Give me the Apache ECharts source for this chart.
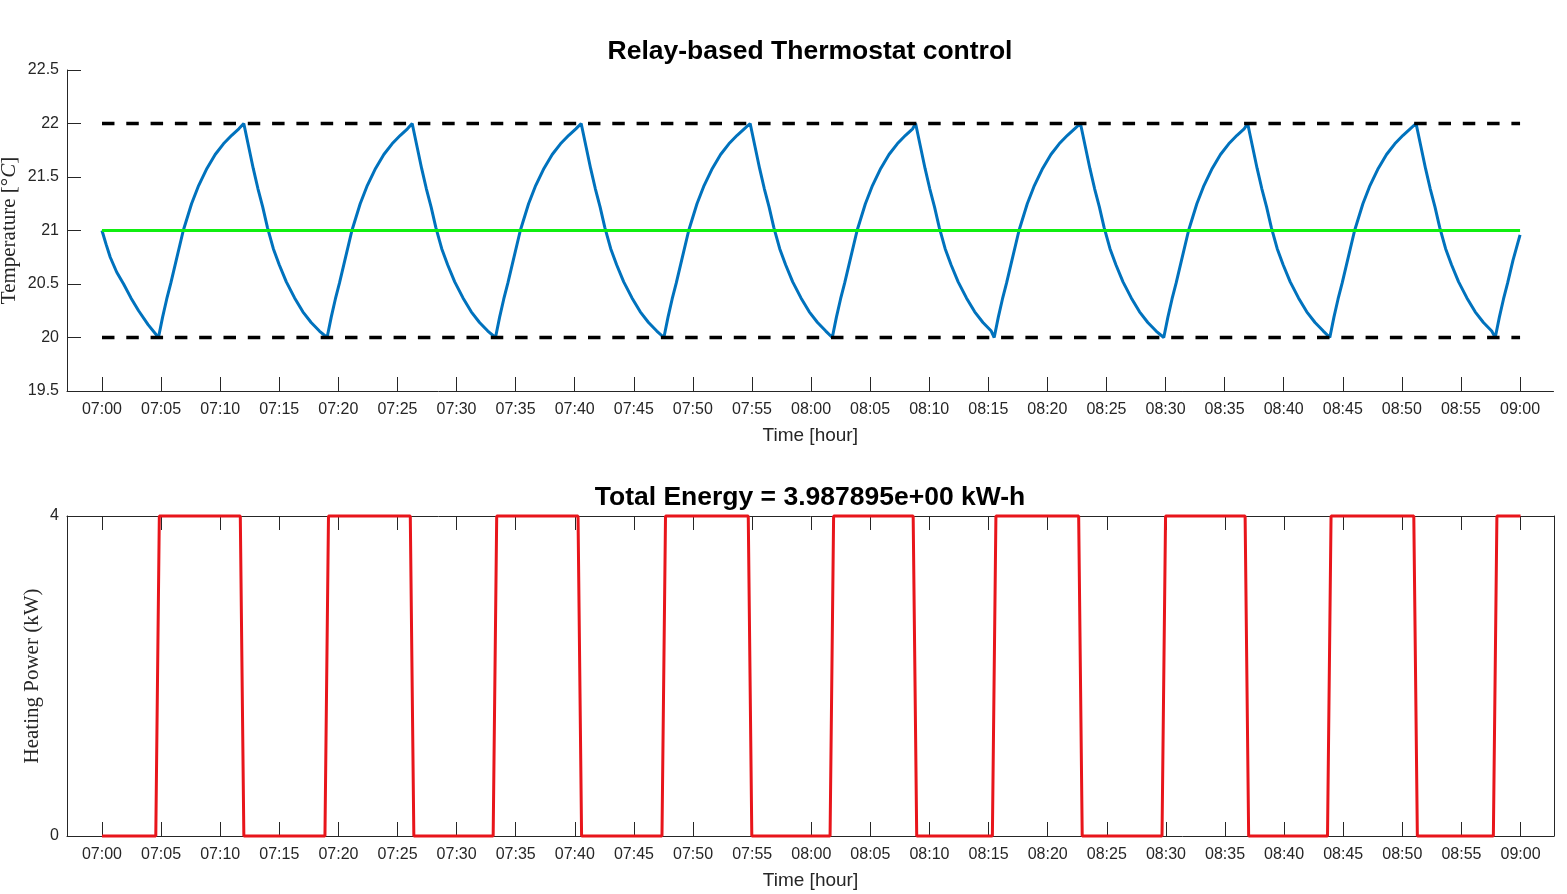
<!DOCTYPE html>
<html>
<head>
<meta charset="utf-8">
<title>Relay-based Thermostat control</title>
<script src="https://cdn.jsdelivr.net/npm/echarts@6/dist/echarts.min.js"></script>
<style>
  html, body { margin: 0; padding: 0; background: #fff; }
  #chart { width: 1567px; height: 894px; }
</style>
</head>
<body>
<div id="chart"></div>
<script>
// minutes after 07:00 and room temperature
var tempMinutes = [
  0, 0.35, 0.70, 1.25, 1.83, 2.45, 3.10, 3.90, 4.78,
  5.13, 5.48, 5.83, 6.28, 6.88, 7.58, 8.18, 8.88, 9.58, 10.28, 10.98, 11.58, 12.0,
  12.4, 12.8, 13.2, 13.6, 14.0, 14.5, 15.0, 15.6, 16.3, 17.0, 17.7, 18.4, 19.05,
  19.40, 19.75, 20.10, 20.55, 21.15, 21.85, 22.45, 23.15, 23.85, 24.55, 25.25, 25.85, 26.25,
  26.65, 27.05, 27.45, 27.85, 28.25, 28.75, 29.25, 29.85, 30.55, 31.25, 31.95, 32.65, 33.3,
  33.65, 34.0, 34.35, 34.8, 35.4, 36.1, 36.7, 37.4, 38.1, 38.8, 39.5, 40.1, 40.55,
  40.95, 41.35, 41.75, 42.15, 42.55, 43.05, 43.55, 44.15, 44.85, 45.55, 46.25, 46.95, 47.55,
  47.9, 48.25, 48.6, 49.05, 49.65, 50.35, 50.95, 51.65, 52.35, 53.05, 53.75, 54.35, 54.85,
  55.25, 55.65, 56.05, 56.45, 56.85, 57.35, 57.85, 58.45, 59.15, 59.85, 60.55, 61.25, 61.8,
  62.15, 62.5, 62.85, 63.3, 63.9, 64.6, 65.2, 65.9, 66.6, 67.3, 68.0, 68.6, 68.85,
  69.25, 69.65, 70.05, 70.45, 70.85, 71.35, 71.85, 72.45, 73.15, 73.85, 74.55, 75.25, 75.5,
  75.85, 76.2, 76.55, 77.0, 77.6, 78.3, 78.9, 79.6, 80.3, 81.0, 81.7, 82.3, 82.8,
  83.2, 83.6, 84.0, 84.4, 84.8, 85.3, 85.8, 86.4, 87.1, 87.8, 88.5, 89.2, 89.85,
  90.2, 90.55, 90.9, 91.35, 91.95, 92.65, 93.25, 93.95, 94.65, 95.35, 96.05, 96.65, 96.95,
  97.35, 97.75, 98.15, 98.55, 98.95, 99.45, 99.95, 100.55, 101.25, 101.95, 102.65, 103.35, 103.9,
  104.25, 104.6, 104.95, 105.4, 106.0, 106.7, 107.3, 108.0, 108.7, 109.4, 110.1, 110.7, 111.2,
  111.6, 112.0, 112.4, 112.8, 113.2, 113.7, 114.2, 114.8, 115.5, 116.2, 116.9, 117.6, 117.9,
  118.25, 118.6, 118.95, 119.4, 120.0
];
var tempCelsius = [
  21, 20.87, 20.75, 20.61, 20.50, 20.37, 20.25, 20.12, 20.0,
  20.19, 20.36, 20.51, 20.72, 21.0, 21.25, 21.42, 21.58, 21.71, 21.81, 21.89, 21.95, 22.0,
  21.79, 21.58, 21.39, 21.22, 21.03, 20.83, 20.68, 20.52, 20.37, 20.24, 20.14, 20.06, 20.0,
  20.19, 20.36, 20.51, 20.72, 21.0, 21.25, 21.42, 21.58, 21.71, 21.81, 21.89, 21.95, 22.0,
  21.79, 21.58, 21.39, 21.22, 21.03, 20.83, 20.68, 20.52, 20.37, 20.24, 20.14, 20.06, 20.0,
  20.19, 20.36, 20.51, 20.72, 21.0, 21.25, 21.42, 21.58, 21.71, 21.81, 21.89, 21.95, 22.0,
  21.79, 21.58, 21.39, 21.22, 21.03, 20.83, 20.68, 20.52, 20.37, 20.24, 20.14, 20.06, 20.0,
  20.19, 20.36, 20.51, 20.72, 21.0, 21.25, 21.42, 21.58, 21.71, 21.81, 21.89, 21.95, 22.0,
  21.79, 21.58, 21.39, 21.22, 21.03, 20.83, 20.68, 20.52, 20.37, 20.24, 20.14, 20.06, 20.0,
  20.19, 20.36, 20.51, 20.72, 21.0, 21.25, 21.42, 21.58, 21.71, 21.81, 21.89, 21.95, 22.0,
  21.79, 21.58, 21.39, 21.22, 21.03, 20.83, 20.68, 20.52, 20.37, 20.24, 20.14, 20.06, 20.0,
  20.19, 20.36, 20.51, 20.72, 21.0, 21.25, 21.42, 21.58, 21.71, 21.81, 21.89, 21.95, 22.0,
  21.79, 21.58, 21.39, 21.22, 21.03, 20.83, 20.68, 20.52, 20.37, 20.24, 20.14, 20.06, 20.0,
  20.19, 20.36, 20.51, 20.72, 21.0, 21.25, 21.42, 21.58, 21.71, 21.81, 21.89, 21.95, 22.0,
  21.79, 21.58, 21.39, 21.22, 21.03, 20.83, 20.68, 20.52, 20.37, 20.24, 20.14, 20.06, 20.0,
  20.19, 20.36, 20.51, 20.72, 21.0, 21.25, 21.42, 21.58, 21.71, 21.81, 21.89, 21.95, 22.0,
  21.79, 21.58, 21.39, 21.22, 21.03, 20.83, 20.68, 20.52, 20.37, 20.24, 20.14, 20.06, 20.0,
  20.19, 20.36, 20.51, 20.72, 20.96
];
// heater power steps
var powerMinutes = [
  0, 4.55, 4.85, 11.70, 12.0, 18.86, 19.16, 26.08, 26.38,
  33.09, 33.39, 40.27, 40.57, 47.37, 47.67, 54.67, 54.97,
  61.59, 61.89, 68.62, 68.92, 75.32, 75.62, 82.62, 82.92,
  89.67, 89.97, 96.70, 97.0, 103.67, 103.97, 110.97, 111.27,
  117.7, 118.0, 120
];
var powerKW = [
  0, 0, 4, 4, 0, 0, 4, 4, 0,
  0, 4, 4, 0, 0, 4, 4, 0,
  0, 4, 4, 0, 0, 4, 4, 0,
  0, 4, 4, 0, 0, 4, 4, 0,
  0, 4, 4
];
var setpoint = 21;
var bandLow = 20;
var bandHigh = 22;
var spanMinutes = [0, 120];
var tickMinutes = [0, 5, 10, 15, 20, 25, 30, 35, 40, 45, 50, 55, 60,
  65, 70, 75, 80, 85, 90, 95, 100, 105, 110, 115, 120];

var SANS = '"Liberation Sans", Arial, Helvetica, sans-serif';
var SERIF = '"Liberation Serif", "Times New Roman", serif';
var AXIS = '#262626';

function pairs(xs, ys) {
  return xs.map(function (x, i) { return [x, ys[i]]; });
}
function flat(v) {
  return spanMinutes.map(function (x) { return [x, v]; });
}
function clock(m) {
  var total = 7 * 60 + Math.round(m);
  var h = Math.floor(total / 60), mm = total % 60;
  return (h < 10 ? '0' : '') + h + ':' + (mm < 10 ? '0' : '') + mm;
}

function timeAxis(grid, pos, withLabels) {
  return {
    type: 'value', gridIndex: grid, position: pos,
    min: -2.96, max: 122.83,
    axisLine: { show: true, onZero: false, lineStyle: { color: AXIS, width: 1 } },
    axisTick: { show: true, inside: true, length: 14, customValues: tickMinutes,
      lineStyle: { color: AXIS, width: 1 } },
    axisLabel: { show: withLabels, customValues: tickMinutes, formatter: clock,
      margin: 11, fontSize: 16, fontFamily: SANS, color: AXIS },
    splitLine: { show: false },
    name: withLabels ? 'Time [hour]' : '',
    nameLocation: 'middle', nameGap: 35,
    nameTextStyle: { fontSize: 19, fontFamily: SANS, color: AXIS }
  };
}

function valueAxis(grid, lo, hi, step, pos) {
  return {
    type: 'value', gridIndex: grid, position: pos, min: lo, max: hi, interval: step,
    axisLine: { show: true, onZero: false, lineStyle: { color: AXIS, width: 1 } },
    axisTick: { show: pos === 'left', inside: true, length: 14, lineStyle: { color: AXIS } },
    axisLabel: { show: pos === 'left', margin: 8, fontSize: 16, fontFamily: SANS, color: AXIS },
    splitLine: { show: false }
  };
}

var tempAxis = valueAxis(0, 19.5, 22.5, 0.5, 'left');
tempAxis.name = 'Temperature [°{it|C}]';
tempAxis.nameLocation = 'middle';
tempAxis.nameGap = 47;
tempAxis.nameMoveOverlap = false;
tempAxis.nameTextStyle = { fontSize: 21, fontFamily: SERIF, color: AXIS,
  rich: { it: { fontSize: 21, fontFamily: SERIF, fontStyle: 'italic', color: AXIS } } };

var powerAxis = valueAxis(1, 0, 4, 4, 'left');
powerAxis.name = 'Heating Power (kW)';
powerAxis.nameLocation = 'middle';
powerAxis.nameGap = 24;
powerAxis.nameMoveOverlap = false;
powerAxis.nameTextStyle = { fontSize: 21, fontFamily: SERIF, color: AXIS };

var chart = echarts.init(document.getElementById('chart'));
var option = {
  animation: false,
  backgroundColor: '#fff',
  title: [
    { text: 'Relay-based Thermostat control', left: 810, top: 52, padding: 0,
      textAlign: 'center', textVerticalAlign: 'middle',
      textStyle: { fontSize: 26.5, fontWeight: 'bold', fontFamily: SANS, color: '#000' } },
    { text: 'Total Energy = 3.987895e+00 kW-h', left: 810, top: 498, padding: 0,
      textAlign: 'center', textVerticalAlign: 'middle',
      textStyle: { fontSize: 26.5, fontWeight: 'bold', fontFamily: SANS, color: '#000' } }
  ],
  grid: [
    { left: 67, top: 70, width: 1486.5, height: 321, outerBoundsMode: 'none', containLabel: false },
    { left: 67, top: 516, width: 1487, height: 320, outerBoundsMode: 'none', containLabel: false }
  ],
  xAxis: [
    timeAxis(0, 'bottom', true),
    timeAxis(1, 'bottom', true),
    timeAxis(1, 'top', false)
  ],
  yAxis: [
    tempAxis,
    powerAxis,
    valueAxis(1, 0, 4, 4, 'right')
  ],
  series: [
    { name: 'Temperature', type: 'line', xAxisIndex: 0, yAxisIndex: 0,
      data: pairs(tempMinutes, tempCelsius), showSymbol: false, clip: false,
      lineStyle: { color: '#0072BD', width: 3 }, z: 3 },
    { name: 'Setpoint', type: 'line', xAxisIndex: 0, yAxisIndex: 0,
      data: flat(setpoint), showSymbol: false,
      lineStyle: { color: '#10ee10', width: 3.2 }, z: 4 },
    { name: 'Upper band', type: 'line', xAxisIndex: 0, yAxisIndex: 0,
      data: flat(bandHigh), showSymbol: false,
      lineStyle: { color: '#000', width: 3.5, type: [12.5, 11.8] }, z: 5 },
    { name: 'Lower band', type: 'line', xAxisIndex: 0, yAxisIndex: 0,
      data: flat(bandLow), showSymbol: false,
      lineStyle: { color: '#000', width: 3.5, type: [12.5, 11.8] }, z: 5 },
    { name: 'Heating Power', type: 'line', xAxisIndex: 1, yAxisIndex: 1,
      data: pairs(powerMinutes, powerKW), showSymbol: false, clip: false,
      lineStyle: { color: '#e8151b', width: 3 }, z: 3 }
  ]
};
chart.setOption(option);
</script>
</body>
</html>
